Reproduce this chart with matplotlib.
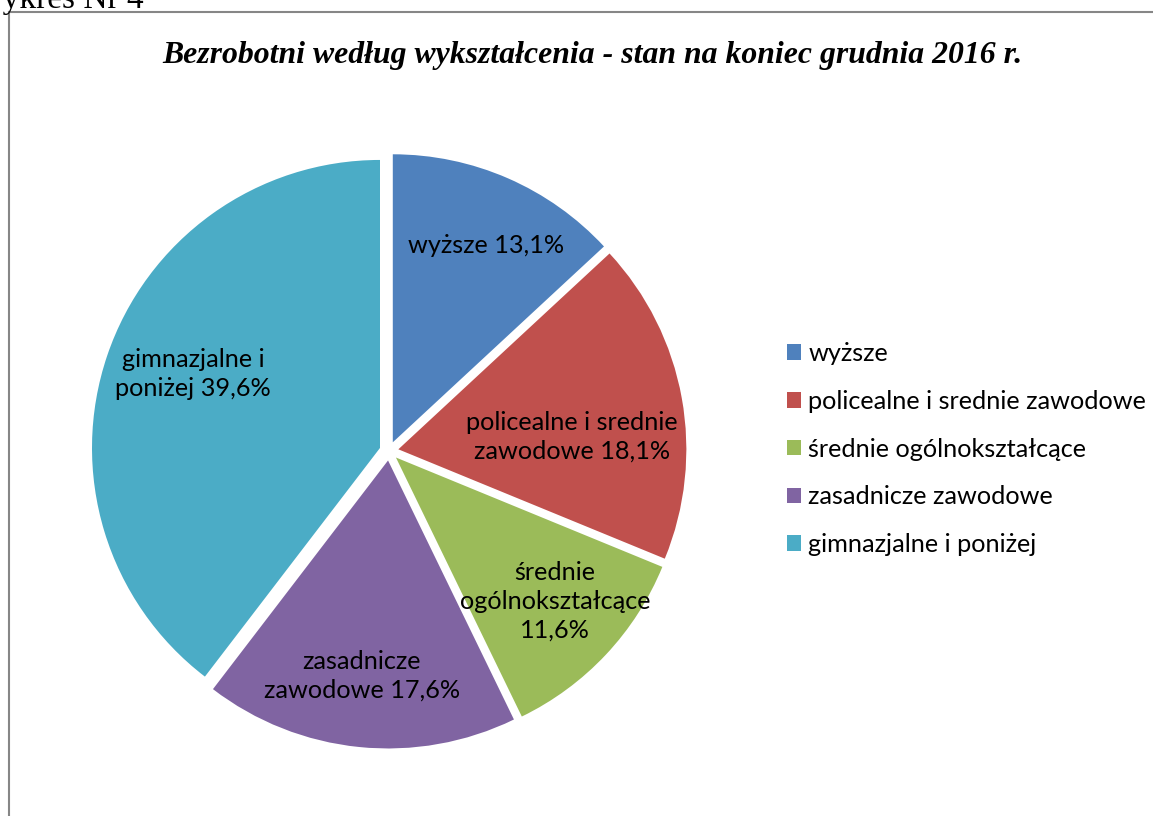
import matplotlib
matplotlib.use("Agg")
import matplotlib.pyplot as plt
import numpy as np

# ---- data ----
categories = ["wyższe", "policealne i srednie zawodowe", "średnie ogólnokształcące",
              "zasadnicze zawodowe", "gimnazjalne i poniżej"]
values = [13.1, 18.1, 11.6, 17.6, 39.6]
slice_labels = ["wyższe 13,1%", "policealne i srednie\nzawodowe 18,1%",
                "średnie\nogólnokształcące\n11,6%", "zasadnicze\nzawodowe 17,6%",
                "gimnazjalne i\nponiżej 39,6%"]
colors = ["#4F81BD", "#C0504D", "#9BBB59", "#8064A2", "#4BACC6"]
title = "Bezrobotni według wykształcenia - stan na koniec grudnia 2016 r."
caption = "Wykres Nr 4"

# ---- layout ----
W, H = 1153, 816
DPI = 100
fig = plt.figure(figsize=(W / DPI, H / DPI), dpi=DPI)
fig.patch.set_facecolor("white")

cx, cy, R = 389, 451, 288      # pie center / radius in pixels
half = 310
ax = fig.add_axes([(cx - half) / W, (H - cy - half) / H, 2 * half / W, 2 * half / H])

explode_d = 0.033
wedges, _ = ax.pie(values, colors=colors, startangle=90, counterclock=False,
                   explode=[explode_d] * len(values), radius=1.0,
                   wedgeprops=dict(linewidth=0))
lim = half / R
ax.set_xlim(-lim, lim)
ax.set_ylim(-lim, lim)
ax.set_aspect("equal")
ax.axis("off")

# label placement: radial distance and clockwise angular shift from the bisector
label_r = [0.79, 0.637, 0.777, 0.787, 0.731]
label_shift = [1.8, 5.9, -1.1, 1.1, 2.7]
label_font = "Lato"
fs = 18.2
for w, lab, lr, sh in zip(wedges, slice_labels, label_r, label_shift):
    ang = np.deg2rad((w.theta1 + w.theta2) / 2 - sh)
    x = lr * np.cos(ang)
    y = lr * np.sin(ang)
    ax.text(x, y, lab, ha="center", va="center", fontsize=fs, family=label_font,
            color="black", multialignment="center", linespacing=1.3)

# title
fig.text(592 / W, 1 - 55 / H, title, ha="center", va="center",
         fontsize=22.9, fontweight="bold", fontstyle="italic",
         family="Liberation Serif", color="black")

# caption cut at top-left
fig.text(-27 / W, 1 - 8 / H, caption, ha="left", va="baseline",
         fontsize=24, family="Liberation Serif", color="black")

# frame lines (left and top)
fig.add_artist(plt.Line2D([8.5 / W, 8.5 / W], [0, 1 - 11.5 / H], transform=fig.transFigure,
                          color="#868686", linewidth=1.5))
fig.add_artist(plt.Line2D([8.5 / W, 1], [1 - 11.5 / H, 1 - 11.5 / H], transform=fig.transFigure,
                          color="#868686", linewidth=1.5))

# legend
leg = fig.legend(wedges, categories, loc="upper left",
                 bbox_to_anchor=(787 / W, 1 - 342 / H), frameon=False,
                 prop=dict(family=label_font, size=fs),
                 handlelength=0.56, handleheight=0.56, handletextpad=0.28,
                 labelspacing=0.98, borderaxespad=0, borderpad=0)

fig.savefig("out.png", dpi=DPI, facecolor="white")
